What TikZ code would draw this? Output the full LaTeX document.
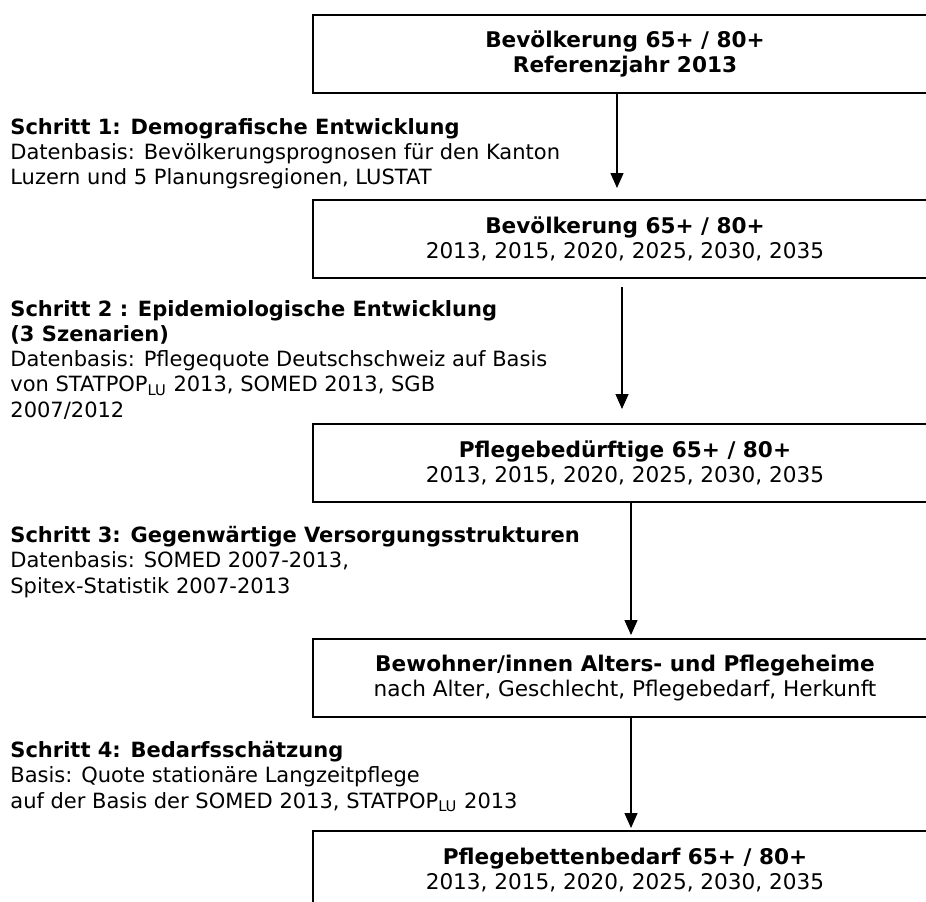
\documentclass[tikz,border=0pt]{standalone}
\usepackage{fontspec}
\setmainfont{DejaVu Sans}
\usetikzlibrary{arrows.meta}

\begin{document}
\begin{tikzpicture}[x=0.5pt, y=-0.5pt,
    kasten/.style={draw, line width=1pt, anchor=north west, minimum width=312pt, minimum height=39pt,
      align=center, inner sep=0pt, font=\fontsize{10.8pt}{12.8pt}\selectfont},
    schritt/.style={anchor=north west, align=left, inner sep=0pt, font=\fontsize{10.5pt}{12.6pt}\selectfont},
    pfeil/.style={-{Triangle[length=7.5pt,width=6.5pt]}, line width=0.6pt}]
  \useasboundingbox (0,0) rectangle (926,901);
  \clip (0,0) rectangle (926,901);
  % Kaesten
  \node[kasten] (bev) at (312,14) {\textbf{Bevölkerung 65+ / 80+}\\\textbf{Referenzjahr 2013}};
  \node[kasten] (bevprog) at (312,199) {\textbf{Bevölkerung 65+ / 80+}\\2013, 2015, 2020, 2025, 2030, 2035};
  \node[kasten] (pflbed) at (312,423) {\textbf{Pflegebedürftige 65+ / 80+}\\2013, 2015, 2020, 2025, 2030, 2035};
  \node[kasten] (bewohner) at (312,638) {\textbf{Bewohner/innen Alters- und Pflegeheime}\\nach Alter, Geschlecht, Pflegebedarf, Herkunft};
  \node[kasten] (betten) at (312,830) {\textbf{Pflegebettenbedarf 65+ / 80+}\\2013, 2015, 2020, 2025, 2030, 2035};
  % Schritte
  \node[schritt] (schritt1) at (10,118) {\textbf{Schritt 1: Demografische Entwicklung}\\Datenbasis: Bevölkerungsprognosen für den Kanton\\Luzern und 5 Planungsregionen, LUSTAT};
  \node[schritt] (schritt2) at (10,300) {\textbf{Schritt 2 : Epidemiologische Entwicklung}\\\textbf{(3 Szenarien)}\\Datenbasis: Pflegequote Deutschschweiz auf Basis\\von STATPOP\textsubscript{LU} 2013, SOMED 2013, SGB\\2007/2012};
  \node[schritt] (schritt3) at (10,526) {\textbf{Schritt 3: Gegenwärtige Versorgungsstrukturen}\\Datenbasis: SOMED 2007-2013,\\Spitex-Statistik 2007-2013};
  \node[schritt] (schritt4) at (10,741) {\textbf{Schritt 4: Bedarfsschätzung}\\Basis: Quote stationäre Langzeitpflege\\auf der Basis der SOMED 2013, STATPOP\textsubscript{LU} 2013};
  % Pfeile
  \draw[pfeil, shorten >=5.5pt] ([xshift=152.5pt]bev.south west) -- ([xshift=152.5pt]bevprog.north west);
  \draw[pfeil, shorten <=4pt, shorten >=7pt] ([xshift=155pt]bevprog.south west) -- ([xshift=155pt]pflbed.north west);
  \draw[pfeil, shorten >=1.5pt] ([xshift=159.5pt]pflbed.south west) -- ([xshift=159.5pt]bewohner.north west);
  \draw[pfeil, shorten >=1pt] ([xshift=159.5pt]bewohner.south west) -- ([xshift=159.5pt]betten.north west);
\end{tikzpicture}
\end{document}
